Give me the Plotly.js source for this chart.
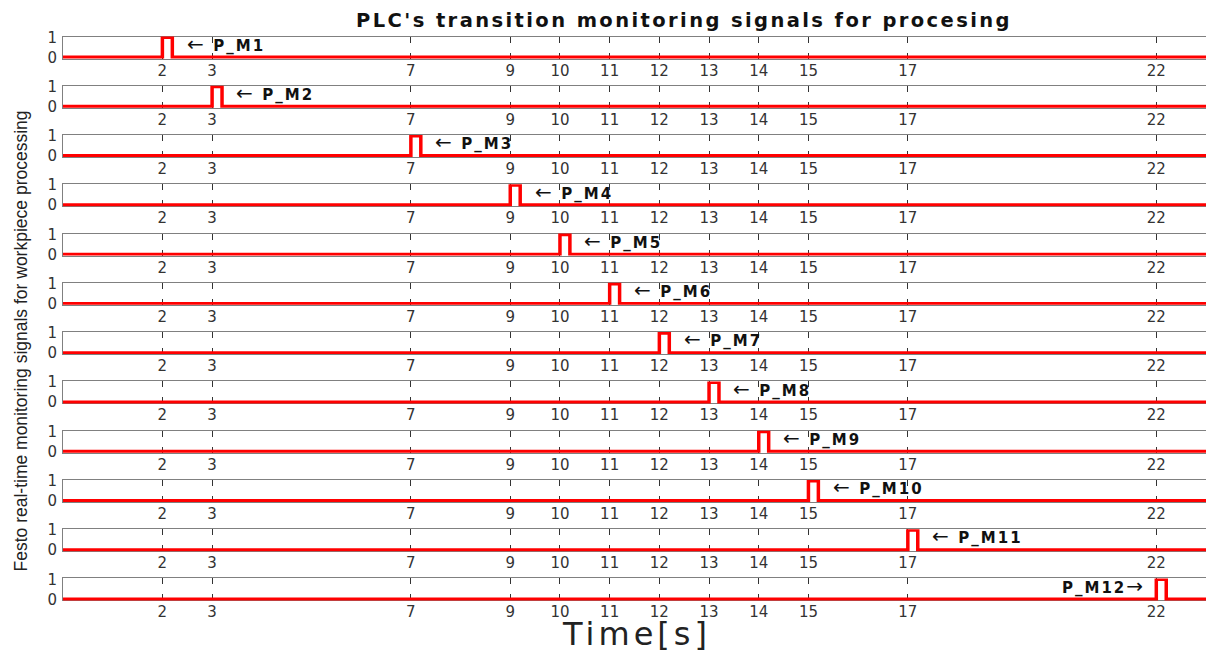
<!DOCTYPE html>
<html>
<head>
<meta charset="utf-8">
<script src="https://cdn.plot.ly/plotly-3.0.1.min.js"></script>
<style>
  html, body { margin: 0; padding: 0; background: #fff; }
  #chart { width: 1206px; height: 655px; }
  .gtitle { letter-spacing: 2.4px; }
</style>
</head>
<body>
<div id="chart"></div>
<script>
// ---- data ----
const signalNames = ['P_M1','P_M2','P_M3','P_M4','P_M5','P_M6','P_M7','P_M8','P_M9','P_M10','P_M11','P_M12'];
const pulseStart = [2, 3, 7, 9, 10, 11, 12, 13, 14, 15, 17, 22];
const pulseEnd   = [2.2, 3.2, 7.2, 9.2, 10.2, 11.2, 12.2, 13.2, 14.2, 15.2, 17.2, 22.2];
const timeSpan   = [0, 23];
const signalLevels = [0, 1, 0, 0];
const timeTicks  = [2, 3, 7, 9, 10, 11, 12, 13, 14, 15, 17, 22];
const levelTicks = [0, 1];
const titleText  = "PLC's transition monitoring signals for procesing";
const xTitleText = 'Time[s]';
const yTitleText = 'Festo real-time monitoring signals for workpiece processing';

// ---- build ----
const W = 1206, H = 655;
const marginL = 63;
const plotW = W - marginL;
const firstTop = 37.3, step = 49.27, unitPx = 20;
const yRange = [-0.06, 1.04];

const traces = [];
const layout = {
  width: W, height: H,
  margin: {l: marginL, r: 0, t: 0, b: 0},
  paper_bgcolor: '#fff', plot_bgcolor: '#fff',
  showlegend: false,
  title: {
    text: '<b>' + titleText + '</b>',
    font: {family: 'DejaVu Sans', size: 19.5, color: '#111'},
    xref: 'container', yref: 'container',
    x: 684 / W, xanchor: 'center',
    y: 1 - 20 / H, yanchor: 'middle'
  },
  annotations: [],
  font: {family: 'DejaVu Sans'}
};

for (let k = 0; k < signalNames.length; k++) {
  const sfx = k === 0 ? '' : String(k + 1);
  const T = firstTop + step * k;
  const topPx = T - yRange[1] * unitPx + unitPx;      // pixel of range top
  const botPx = T + unitPx - yRange[0] * unitPx;      // pixel of range bottom
  traces.push({
    type: 'scatter', mode: 'lines',
    x: [timeSpan[0], pulseStart[k], pulseEnd[k], timeSpan[1]],
    y: signalLevels,
    line: {color: '#ff0000', width: 3.5, shape: 'hv'},
    xaxis: 'x' + sfx, yaxis: 'y' + sfx,
    hoverinfo: 'skip'
  });
  layout['xaxis' + sfx] = {
    domain: [0, 1], anchor: 'y' + sfx,
    range: timeSpan, fixedrange: true,
    tickmode: 'array', tickvals: timeTicks, ticktext: timeTicks.map(String),
    ticks: 'inside', ticklen: 6, tickwidth: 1, tickcolor: '#333',
    showline: true, linecolor: '#808080', linewidth: 1, mirror: 'ticks',
    showgrid: false, zeroline: false, layer: 'below traces',
    tickfont: {family: 'DejaVu Sans', size: 15, color: '#333'},
    ticklabelstandoff: -2
  };
  layout['yaxis' + sfx] = {
    domain: [1 - botPx / H, 1 - topPx / H], anchor: 'x' + sfx,
    range: yRange, fixedrange: true,
    tickmode: 'array', tickvals: levelTicks, ticktext: levelTicks.map(String),
    ticks: '', showline: true, linecolor: '#808080', linewidth: 1, mirror: false,
    showgrid: false, zeroline: false, layer: 'below traces',
    tickfont: {family: 'DejaVu Sans', size: 15, color: '#333'},
    ticklabelstandoff: 2
  };
  const last = k === signalNames.length - 1;
  const nameHtml = '<span style="font-weight:bold;letter-spacing:2px">' + signalNames[k] + '</span>';
  const arrowR = '<span style="font-size:20px">\u2192</span>';
  const arrowL = '<span style="font-size:20px">\u2190</span>';
  layout.annotations.push({
    xref: 'x' + sfx, yref: 'y' + sfx,
    x: last ? pulseStart[k] - 0.22 : pulseStart[k] + 0.45,
    y: 0.68,
    xanchor: last ? 'right' : 'left', yanchor: 'middle',
    text: last ? nameHtml + arrowR : arrowL + '\u00a0\u00a0' + nameHtml,
    showarrow: false,
    font: {family: 'DejaVu Sans', size: 15, color: '#111'}
  });
}

layout.annotations.push({
  xref: 'paper', yref: 'paper',
  x: (637 - marginL) / plotW, y: 0,
  xanchor: 'center', yanchor: 'bottom',
  text: '<span style="letter-spacing:4px">' + xTitleText + '</span>',
  showarrow: false,
  font: {family: 'DejaVu Sans', size: 32, color: '#222'}
});
layout.annotations.push({
  xref: 'paper', yref: 'paper',
  x: (20 - marginL) / plotW, y: 1 - 341.5 / H,
  xanchor: 'center', yanchor: 'middle',
  textangle: -90,
  text: yTitleText,
  showarrow: false,
  font: {family: 'Liberation Sans, Arial', size: 17.5, color: '#222'}
});

Plotly.newPlot('chart', traces, layout, {displayModeBar: false, staticPlot: true});
</script>
</body>
</html>
